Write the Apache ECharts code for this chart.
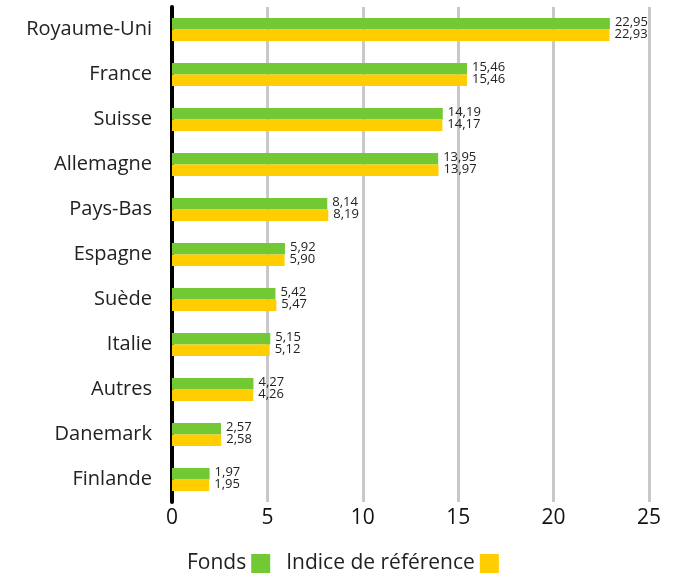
<!DOCTYPE html>
<html>
<head>
<meta charset="utf-8">
<script src="https://cdn.jsdelivr.net/npm/echarts@6/dist/echarts.min.js"></script>
<style>
  html, body { margin: 0; padding: 0; background: #fff; }
  #chart { width: 689px; height: 581px; }
</style>
</head>
<body>
<div id="chart"></div>
<script>
// data, top to bottom as shown
const categories = ['Royaume-Uni', 'France', 'Suisse', 'Allemagne', 'Pays-Bas', 'Espagne', 'Suède', 'Italie', 'Autres', 'Danemark', 'Finlande'];
const fonds = [22.95, 15.46, 14.19, 13.95, 8.14, 5.92, 5.42, 5.15, 4.27, 2.57, 1.97];
const indice = [22.93, 15.46, 14.17, 13.97, 8.19, 5.90, 5.47, 5.12, 4.26, 2.58, 1.95];
const seriesNames = ['Fonds', 'Indice de référence'];

const FONT = 'Open Sans';
const fmt = (p) => p.value.toFixed(2).replace('.', ',');

const chart = echarts.init(document.getElementById('chart'), null, { renderer: 'canvas' });

const labelStyle = {
    show: true,
    position: 'right',
    distance: 5,
    color: '#222',
    fontSize: 13,
    fontFamily: FONT,
    formatter: fmt
};

chart.setOption({
    animation: false,
    textStyle: { fontFamily: FONT },
    grid: { left: 172, right: 40, top: 7, bottom: 79, containLabel: false },
    legend: {
        data: seriesNames,
        bottom: 2,
        left: 182,
        align: 'right',
        itemWidth: 19,
        itemHeight: 19,
        itemGap: 16,
        icon: 'rect',
        textStyle: { fontSize: 21, color: '#222', fontFamily: FONT, padding: [9, 0, 0, 0] }
    },
    xAxis: {
        type: 'value',
        min: 0,
        max: 25,
        interval: 5,
        axisLine: { show: false },
        axisTick: { show: false },
        splitLine: { lineStyle: { color: '#c8c8c8', width: 3 } },
        axisLabel: { fontSize: 21, color: '#111', margin: 6 }
    },
    yAxis: {
        type: 'category',
        inverse: true,
        data: categories,
        axisLine: { lineStyle: { color: '#000', width: 4 } },
        axisTick: { show: false },
        axisLabel: { fontSize: 20, color: '#222', margin: 20, padding: [5, 0, 0, 0] }
    },
    series: [
        {
            name: seriesNames[0],
            type: 'bar',
            data: fonds,
            barGap: 0,
            barCategoryGap: '49%',
            itemStyle: { color: '#72c934' },
            label: Object.assign({}, labelStyle, { offset: [0, -1] })
        },
        {
            name: seriesNames[1],
            type: 'bar',
            data: indice,
            barGap: 0,
            barCategoryGap: '49%',
            itemStyle: { color: '#ffcd00' },
            label: Object.assign({}, labelStyle, { offset: [0, -1] })
        }
    ]
});
</script>
</body>
</html>
